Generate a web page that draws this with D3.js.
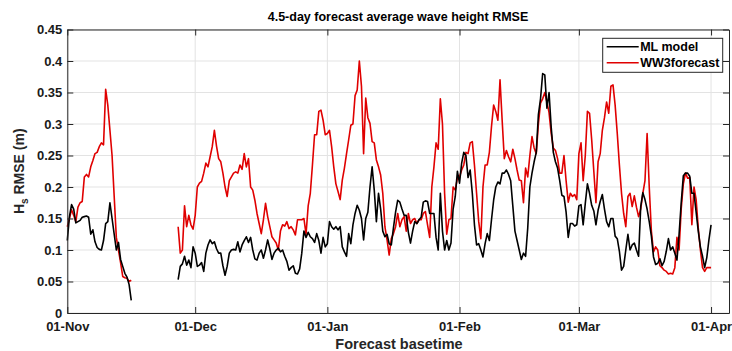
<!DOCTYPE html>
<html>
<head>
<meta charset="utf-8">
<script src="https://cdn.jsdelivr.net/npm/d3@7"></script>
<style>
  body { margin: 0; background: #fff; }
  svg { display: block; font-family: "Liberation Sans", Arial, Helvetica, sans-serif; }
</style>
</head>
<body>
<svg id="chart" width="732" height="351"></svg>
<script>
// ---- data: 4.5-day forecast average Hs RMSE, 12-hourly basetimes ----
const seriesNames = ['ML model', 'WW3forecast'];
const stepHours = 12;
const seg1Start = '2018-11-01T00:00Z';
const seg2Start = '2018-11-27T00:00Z';

const mlSeg1 = [0.115, 0.153, 0.172, 0.165, 0.143, 0.145, 0.147, 0.152, 0.153, 0.154,
  0.152, 0.125, 0.132, 0.113, 0.104, 0.101, 0.100, 0.115, 0.142, 0.145,
  0.175, 0.150, 0.125, 0.100, 0.112, 0.085, 0.074, 0.063, 0.057, 0.045, 0.020];

const ww3Seg1 = [0.137, 0.150, 0.164, 0.155, 0.145, 0.168, 0.175, 0.177, 0.216, 0.220,
  0.216, 0.232, 0.242, 0.253, 0.255, 0.264, 0.270, 0.267, 0.355, 0.330,
  0.290, 0.250, 0.185, 0.120, 0.100, 0.080, 0.058, 0.056, 0.055, 0.050, 0.052];

const mlSeg2 = [0.053, 0.074, 0.078, 0.090, 0.076, 0.084, 0.072, 0.105, 0.095, 0.074,
  0.076, 0.080, 0.066, 0.095, 0.108, 0.116, 0.110, 0.113, 0.102, 0.095,
  0.095, 0.075, 0.060, 0.074, 0.095, 0.100, 0.101, 0.100, 0.113, 0.097,
  0.108, 0.115, 0.121, 0.112, 0.120, 0.100, 0.086, 0.084, 0.095, 0.100,
  0.087, 0.100, 0.116, 0.102, 0.085, 0.095, 0.100, 0.103, 0.097, 0.100,
  0.090, 0.082, 0.068, 0.072, 0.075, 0.063, 0.062, 0.070, 0.095, 0.130,
  0.120, 0.128, 0.121, 0.118, 0.112, 0.126, 0.115, 0.095, 0.120, 0.105,
  0.110, 0.145, 0.137, 0.133, 0.137, 0.132, 0.137, 0.105, 0.097, 0.090,
  0.126, 0.110, 0.140, 0.158, 0.171, 0.163, 0.150, 0.116, 0.150, 0.160,
  0.200, 0.232, 0.195, 0.145, 0.190, 0.165, 0.130, 0.121, 0.125, 0.110,
  0.108, 0.135, 0.160, 0.179, 0.176, 0.165, 0.155, 0.155, 0.128, 0.111,
  0.130, 0.145, 0.142, 0.148, 0.152, 0.176, 0.178, 0.177, 0.158, 0.158,
  0.158, 0.120, 0.100, 0.190, 0.130, 0.100, 0.115, 0.100, 0.111, 0.165,
  0.185, 0.225, 0.206, 0.238, 0.255, 0.250, 0.215, 0.227, 0.190, 0.140,
  0.108, 0.110, 0.100, 0.089, 0.110, 0.126, 0.115, 0.148, 0.179, 0.200,
  0.208, 0.205, 0.222, 0.222, 0.227, 0.220, 0.210, 0.170, 0.130, 0.115,
  0.100, 0.085, 0.095, 0.090, 0.135, 0.200, 0.222, 0.240, 0.255, 0.315,
  0.340, 0.380, 0.378, 0.325, 0.350, 0.295, 0.255, 0.240, 0.230, 0.210,
  0.187, 0.185, 0.160, 0.120, 0.142, 0.142, 0.138, 0.140, 0.170, 0.172,
  0.140, 0.174, 0.205, 0.190, 0.171, 0.162, 0.140, 0.163, 0.177, 0.188,
  0.165, 0.145, 0.137, 0.150, 0.150, 0.122, 0.118, 0.098, 0.068, 0.074,
  0.100, 0.125, 0.100, 0.108, 0.111, 0.100, 0.090, 0.169, 0.191, 0.180,
  0.165, 0.145, 0.122, 0.089, 0.077, 0.079, 0.086, 0.075, 0.082, 0.098,
  0.118, 0.100, 0.105, 0.095, 0.084, 0.125, 0.175, 0.218, 0.222, 0.222,
  0.217, 0.190, 0.190, 0.160, 0.130, 0.105, 0.090, 0.072, 0.088, 0.116, 0.140];

const ww3Seg2 = [0.137, 0.095, 0.100, 0.170, 0.137, 0.155, 0.140, 0.133, 0.155, 0.200,
  0.206, 0.209, 0.222, 0.238, 0.232, 0.248, 0.264, 0.290, 0.265, 0.245,
  0.240, 0.222, 0.200, 0.185, 0.210, 0.216, 0.222, 0.224, 0.222, 0.235,
  0.228, 0.253, 0.232, 0.245, 0.200, 0.195, 0.179, 0.158, 0.142, 0.126,
  0.148, 0.174, 0.153, 0.137, 0.121, 0.116, 0.111, 0.100, 0.130, 0.140,
  0.138, 0.145, 0.134, 0.137, 0.132, 0.124, 0.148, 0.148, 0.148, 0.150,
  0.125, 0.170, 0.190, 0.235, 0.283, 0.283, 0.320, 0.322, 0.306, 0.283,
  0.285, 0.290, 0.264, 0.232, 0.205, 0.193, 0.180, 0.211, 0.230, 0.253,
  0.275, 0.298, 0.300, 0.345, 0.354, 0.400, 0.360, 0.253, 0.341, 0.310,
  0.301, 0.272, 0.270, 0.243, 0.232, 0.219, 0.190, 0.137, 0.116, 0.092,
  0.118, 0.126, 0.137, 0.158, 0.137, 0.148, 0.153, 0.130, 0.158, 0.142,
  0.148, 0.150, 0.142, 0.148, 0.148, 0.158, 0.161, 0.140, 0.120, 0.200,
  0.232, 0.270, 0.260, 0.340, 0.300, 0.190, 0.125, 0.148, 0.150, 0.200,
  0.195, 0.214, 0.216, 0.227, 0.235, 0.255, 0.253, 0.270, 0.272, 0.235,
  0.190, 0.145, 0.118, 0.200, 0.235, 0.235, 0.255, 0.296, 0.330, 0.320,
  0.306, 0.370, 0.306, 0.245, 0.258, 0.248, 0.240, 0.260, 0.245, 0.227,
  0.211, 0.210, 0.175, 0.230, 0.216, 0.250, 0.280, 0.262, 0.253, 0.300,
  0.333, 0.340, 0.350, 0.335, 0.318, 0.285, 0.262, 0.258, 0.245, 0.222,
  0.222, 0.250, 0.210, 0.176, 0.190, 0.185, 0.188, 0.180, 0.253, 0.270,
  0.210, 0.250, 0.320, 0.317, 0.275, 0.225, 0.175, 0.240, 0.253, 0.290,
  0.310, 0.335, 0.317, 0.360, 0.362, 0.330, 0.285, 0.235, 0.190, 0.158,
  0.137, 0.185, 0.190, 0.169, 0.186, 0.168, 0.153, 0.165, 0.190, 0.210,
  0.285, 0.200, 0.130, 0.097, 0.105, 0.100, 0.075, 0.072, 0.068, 0.066,
  0.062, 0.063, 0.062, 0.072, 0.120, 0.100, 0.165, 0.205, 0.222, 0.214,
  0.215, 0.140, 0.200, 0.180, 0.135, 0.100, 0.072, 0.066, 0.072, 0.072, 0.072];

const xTickLabels = ['01-Nov', '01-Dec', '01-Jan', '01-Feb', '01-Mar', '01-Apr'];
const yTicks = [0, 0.05, 0.1, 0.15, 0.2, 0.25, 0.3, 0.35, 0.4, 0.45];
const colors = ['#000000', '#e00000'];

// ---- layout ----
const plot = { left: 67.3, right: 729, top: 29.5, bottom: 313 };
const svg = d3.select('#chart');

const x = d3.scaleUtc()
  .domain([new Date('2018-11-01T00:00Z'), new Date('2019-04-05T05:00Z')])
  .range([plot.left, plot.right]);
const y = d3.scaleLinear()
  .domain([0, 0.45])
  .range([plot.bottom, plot.top]);

const xTickDates = d3.utcMonth.range(new Date('2018-11-01T00:00Z'), new Date('2019-04-02T00:00Z'));

function toPoints(start, values) {
  const t0 = new Date(start).getTime();
  return values.map((v, i) => ({ t: new Date(t0 + i * stepHours * 3600e3), v }));
}

/*********** grid ***********/
const grid = svg.append('g').attr('stroke', '#e3e3e3').attr('stroke-width', 1);
grid.selectAll('.gx').data(xTickDates).enter().append('line')
  .attr('x1', d => x(d)).attr('x2', d => x(d))
  .attr('y1', plot.top).attr('y2', plot.bottom);
grid.selectAll('.gy').data(yTicks).enter().append('line')
  .attr('x1', plot.left).attr('x2', plot.right)
  .attr('y1', d => y(d)).attr('y2', d => y(d));

/*********** lines ***********/
const line = d3.line().x(d => x(d.t)).y(d => y(d.v));
const segments = [
  [toPoints(seg1Start, ww3Seg1), colors[1]],
  [toPoints(seg2Start, ww3Seg2), colors[1]],
  [toPoints(seg1Start, mlSeg1), colors[0]],
  [toPoints(seg2Start, mlSeg2), colors[0]]
];
svg.append('g').selectAll('path').data(segments).enter().append('path')
  .attr('d', d => line(d[0]))
  .attr('fill', 'none')
  .attr('stroke', d => d[1])
  .attr('stroke-width', 1.6)
  .attr('stroke-linejoin', 'round');

/*********** axes (MATLAB style, ticks inward, box) ***********/
const axisColor = '#262626';
const tickLen = 6;
const fmt = (d, i) => xTickLabels[i];

const xAxisB = svg.append('g')
  .attr('transform', `translate(0,${plot.bottom})`)
  .call(d3.axisBottom(x).tickValues(xTickDates).tickFormat(fmt).tickSizeInner(-tickLen).tickSizeOuter(0).tickPadding(8.5));
const xAxisT = svg.append('g')
  .attr('transform', `translate(0,${plot.top})`)
  .call(d3.axisTop(x).tickValues(xTickDates).tickFormat('').tickSizeInner(-tickLen).tickSizeOuter(0));
const yAxisL = svg.append('g')
  .attr('transform', `translate(${plot.left},0)`)
  .call(d3.axisLeft(y).tickValues(yTicks).tickFormat(d => d === 0 ? '0' : d3.format('')(+d.toFixed(2))).tickSizeInner(-tickLen).tickSizeOuter(0).tickPadding(5));
const yAxisR = svg.append('g')
  .attr('transform', `translate(${plot.right},0)`)
  .call(d3.axisRight(y).tickValues(yTicks).tickFormat('').tickSizeInner(-tickLen).tickSizeOuter(0));

[xAxisB, xAxisT, yAxisL, yAxisR].forEach(a => {
  a.select('.domain').attr('stroke', axisColor);
  a.selectAll('.tick line').attr('stroke', axisColor);
  a.selectAll('.tick text')
    .attr('fill', '#1a1a1a')
    .style('font-size', '13px')
    .style('font-weight', 'bold')
    .style('font-family', '"Liberation Sans", Arial, sans-serif');
});

/*********** labels ***********/
svg.append('text')
  .attr('x', 398)
  .attr('y', 21)
  .attr('text-anchor', 'middle')
  .style('font-size', '12.5px')
  .style('font-weight', 'bold')
  .attr('fill', '#000')
  .text('4.5-day forecast average wave height RMSE');

svg.append('text')
  .attr('x', 399)
  .attr('y', 349)
  .attr('text-anchor', 'middle')
  .style('font-size', '14.5px')
  .style('font-weight', 'bold')
  .attr('fill', '#262626')
  .text('Forecast basetime');

const yl = svg.append('text')
  .attr('transform', `translate(23.5,${(plot.top + plot.bottom) / 2}) rotate(-90)`)
  .attr('text-anchor', 'middle')
  .style('font-size', '14px')
  .style('font-weight', 'bold')
  .attr('fill', '#262626');
yl.append('tspan').text('H');
yl.append('tspan').attr('dy', 4).style('font-size', '10px').text('s');
yl.append('tspan').attr('dy', -4).text(' RMSE (m)');

/*********** legend ***********/
const lg = svg.append('g').attr('transform', 'translate(602.7,38.3)');
lg.append('rect')
  .attr('width', 120).attr('height', 34)
  .attr('fill', '#fff').attr('stroke', '#262626').attr('stroke-width', 1);
seriesNames.forEach((name, i) => {
  const yy = 8.5 + i * 16;
  lg.append('line')
    .attr('x1', 4).attr('x2', 36).attr('y1', yy).attr('y2', yy)
    .attr('stroke', colors[i]).attr('stroke-width', 1.6);
  lg.append('text')
    .attr('x', 37.5).attr('y', yy + 4.5)
    .style('font-size', '12.5px').style('font-weight', 'bold')
    .attr('fill', '#000')
    .text(name);
});
</script>
</body>
</html>
